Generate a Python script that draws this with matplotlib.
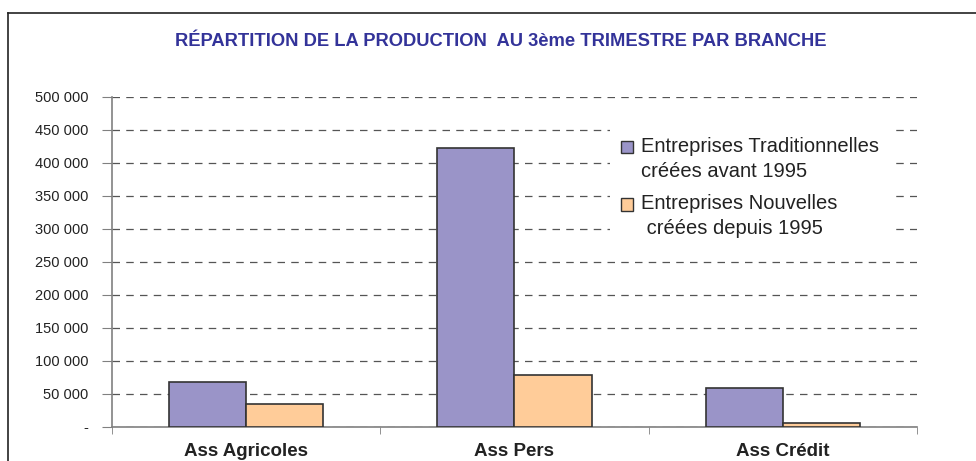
"""
Répartition de la production au 3ème trimestre par branche
"""

import matplotlib.pyplot as plt
from matplotlib.patches import Patch
from matplotlib.ticker import FuncFormatter, FixedLocator
from matplotlib.lines import Line2D
import numpy as np

categories = ['Ass Agricoles', 'Ass Pers', 'Ass Crédit']
traditionnelles = [68000, 422000, 58000]
nouvelles = [35000, 78000, 6000]
series_labels = ['Entreprises Traditionnelles\ncréées avant 1995',
                 'Entreprises Nouvelles\n créées depuis 1995']

PURPLE = '#9A94C8'
ORANGE = '#FFCC99'
EDGE = '#333333'

plt.rcParams['font.family'] = ['Liberation Sans', 'DejaVu Sans']

fig = plt.figure(figsize=(9.76, 4.61), dpi=100)
ax = fig.add_axes([0.1148, 0.0744, 0.8247, 0.7158])

# frame around the chart (top and left only visible)
fig.add_artist(Line2D([8/976, 8/976], [0, 1 - 13/461], transform=fig.transFigure,
                      color='#222222', lw=1.2))
fig.add_artist(Line2D([8/976, 1], [1 - 13/461, 1 - 13/461], transform=fig.transFigure,
                      color='#222222', lw=1.2))

x = np.arange(len(categories))
w = 0.287
ax.bar(x - w/2, traditionnelles, w, color=PURPLE, edgecolor=EDGE, linewidth=1.2, zorder=3)
ax.bar(x + w/2, nouvelles, w, color=ORANGE, edgecolor=EDGE, linewidth=1.2, zorder=3)

ax.set_xlim(-0.5, 2.5)
ax.set_ylim(0, 500000)
ax.set_yticks(range(0, 500001, 50000))
ax.yaxis.set_major_formatter(FuncFormatter(
    lambda v, p: '-' if v == 0 else f'{int(v):,}'.replace(',', ' ')))
ax.tick_params(axis='y', direction='out', length=7, color='#808080',
               labelsize=10.5, labelcolor='#222222', pad=10)

ax.set_xticks(x)
ax.set_xticklabels(categories, fontsize=13.5, fontweight='bold', color='#222222')
ax.tick_params(axis='x', which='major', length=0, pad=12)
ax.xaxis.set_minor_locator(FixedLocator([-0.5, 0.5, 1.5, 2.5]))
ax.tick_params(axis='x', which='minor', direction='out', length=5, color='#808080')

ax.grid(axis='y', linestyle=(0, (6, 5)), color='#555555', linewidth=0.9, zorder=0)
for s in ['top', 'right']:
    ax.spines[s].set_visible(False)
for s in ['left', 'bottom']:
    ax.spines[s].set_color('#808080')
    ax.spines[s].set_linewidth(1.2)

fig.text(0.513, 1 - 42/461, 'RÉPARTITION DE LA PRODUCTION  AU 3ème TRIMESTRE PAR BRANCHE',
         ha='center', va='center', fontsize=13.2, fontweight='bold', color='#333399')

handles = [Patch(facecolor=PURPLE, edgecolor=EDGE), Patch(facecolor=ORANGE, edgecolor=EDGE)]
leg = ax.legend(handles, series_labels, loc='upper left',
                bbox_to_anchor=(600/976, 1 - 116/461), bbox_transform=fig.transFigure,
                frameon=True, fancybox=False, facecolor='white', edgecolor='none',
                framealpha=1, fontsize=14.5, handlelength=0.6, handleheight=0.6,
                handletextpad=0.4, labelspacing=0.65, borderpad=0.55)
leg.set_zorder(5)
for t in leg.get_texts():
    t.set_color('#222222')
    t.set_linespacing(1.4)
# put the colour squares level with the first line of each label
for p in leg.legend_handles:
    p.set_y(p.get_y() + 9)

plt.savefig('out.png', dpi=100)
plt.close()
